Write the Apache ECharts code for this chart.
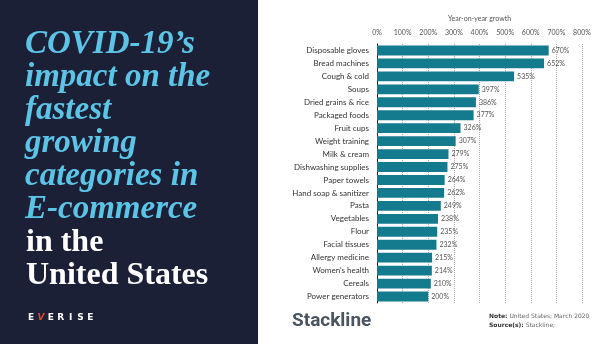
<!DOCTYPE html>
<html><head><meta charset="utf-8">
<script src="https://cdn.jsdelivr.net/npm/echarts@6/dist/echarts.min.js"></script>
<style>html,body{margin:0;padding:0;background:#fff}#c{width:611px;height:344px}</style>
</head><body><div id="c"></div>
<script>
const categories = ["Disposable gloves","Bread machines","Cough & cold","Soups","Dried grains & rice","Packaged foods","Fruit cups","Weight training","Milk & cream","Dishwashing supplies","Paper towels","Hand soap & sanitizer","Pasta","Vegetables","Flour","Facial tissues","Allergy medicine","Women's health","Cereals","Power generators"];
const growth = [670,652,535,397,386,377,326,307,279,275,264,262,249,238,235,232,215,214,210,200];
const titleBlue = ["COVID-19\u2019s","impact on the","fastest","growing","categories in","E-commerce"];
const titleWhite = ["in the","United States"];
const logoLetters = ["E","V","E","R","I","S","E"];
const axisName = "Year-on-year growth";

const chart = echarts.init(document.getElementById('c'), null, {renderer:'canvas'});
const graphics = [
  {type:'rect', shape:{x:0,y:0,width:258,height:344}, style:{fill:'#1c2036'}, z:-1}
];
const lh = 33, midY = 44;
titleBlue.forEach((t,i)=>graphics.push({type:'text', x:25, y:midY+i*lh, style:{text:t, fill:'#5cc4e6', font:'italic bold 33px "Liberation Serif"', verticalAlign:'middle'}}));
titleWhite.forEach((t,i)=>graphics.push({type:'text', x:26, y:midY+(titleBlue.length+i)*lh+1, style:{text:t, fill:'#ffffff', font:'bold 32px "Liberation Serif"', verticalAlign:'middle'}}));
logoLetters.forEach((t,i)=>graphics.push({type:'text', x:31+i*9.9, y:318, style:{text:t, fill:i==1?'#e0452b':'#ffffff', font:(i==1?'italic ':'')+'bold 9px "DejaVu Sans"', verticalAlign:'middle', align:'center'}}));
graphics.push({type:'text', x:292, y:321, style:{text:'Stackline', fill:'#4b5461', font:'bold 19px Roboto', verticalAlign:'middle'}});
graphics.push({type:'text', x:489, y:316, style:{text:'{b|Note:} United States; March 2020', verticalAlign:'middle', rich:{b:{fill:'#333', font:'bold 6px "DejaVu Sans"'}}, fill:'#666', font:'6px "DejaVu Sans"'}});
graphics.push({type:'text', x:489, y:325, style:{text:'{b|Source(s):} Stackline;', verticalAlign:'middle', rich:{b:{fill:'#333', font:'bold 6px "DejaVu Sans"'}}, fill:'#666', font:'6px "DejaVu Sans"'}});

chart.setOption({
  animation:false,
  grid:{left:377, right:29, top:44, height:259, containLabel:false},
  xAxis:{type:'value', position:'top', min:0, max:800, interval:100,
    name:axisName, nameLocation:'middle', nameGap:22,
    nameTextStyle:{fontSize:7, color:'#555', fontFamily:'Lato'},
    axisLine:{show:false}, axisTick:{show:false},
    axisLabel:{formatter:'{value}%', fontSize:7, color:'#555', fontFamily:'Lato', margin:8},
    splitLine:{show:true, lineStyle:{type:'dotted', color:'#aaa', width:1}}},
  yAxis:{type:'category', data:categories, inverse:true,
    axisLine:{show:true, lineStyle:{color:'#222', width:1}}, axisTick:{show:false},
    axisLabel:{fontSize:8, color:'#333', fontFamily:'Lato', margin:8}},
  series:[{type:'bar', data:growth, barCategoryGap:'24%', itemStyle:{color:'#147b8e'},
    label:{show:true, position:'right', distance:3, formatter:'{c}%', fontSize:7, color:'#555', fontFamily:'Lato'}}],
  graphic:graphics
});
</script></body></html>
